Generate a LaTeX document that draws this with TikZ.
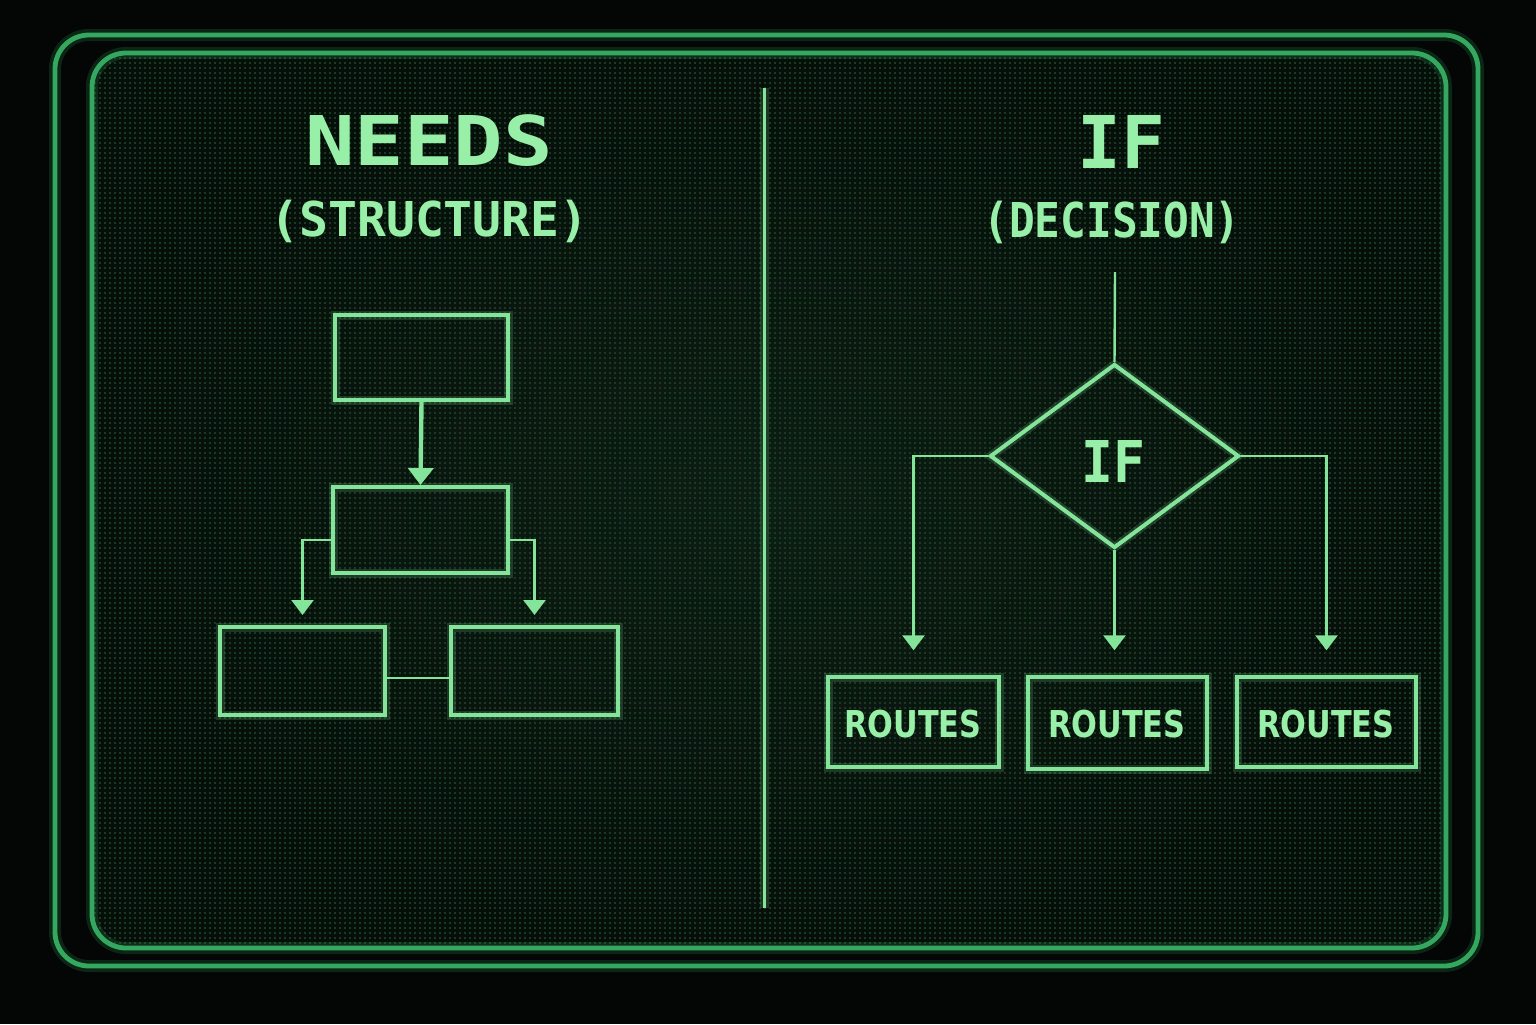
\documentclass[tikz,border=0pt]{standalone}
\usepackage{fontspec}
\usepackage{graphicx}
\setmainfont{DejaVu Sans}
\newfontfamily\crtmono{DejaVu Sans Mono}
\usetikzlibrary{shapes.geometric,arrows.meta}
\definecolor{bgk}{HTML}{030604}
\definecolor{scrout}{HTML}{060E09}
\definecolor{scrin}{HTML}{0D1E14}
\definecolor{dotc}{HTML}{163C22}
\definecolor{framec}{HTML}{33A85E}
\definecolor{lnc}{HTML}{84E49A}
\definecolor{txtc}{HTML}{98F0A8}
\begin{document}
\begin{tikzpicture}[x=0.5pt,y=-0.5pt,
  glow/.style={preaction={draw=lnc, line width=4.5pt, opacity=0.18}},
  frameline/.style={draw=framec, line width=2.4pt, rounded corners=17pt,
    preaction={draw=framec, line width=6pt, opacity=0.2}},
  fbox/.style={draw=lnc, line width=2pt, inner sep=0pt, glow},
  rbox/.style={draw=lnc, line width=1.7pt, inner sep=0pt, glow,
    font=\bfseries\fontsize{18.5pt}{20pt}\selectfont, text=txtc},
  conn/.style={draw=lnc, line width=1.2pt},
  arr/.style={draw=lnc, line width=1.3pt, -{Triangle[length=7.5pt,width=11pt]}},
  bigarr/.style={draw=lnc, line width=2.2pt, -{Triangle[length=8.5pt,width=12.5pt]}},
  ttl/.style={text=txtc, anchor=base, inner sep=0pt},
]
\useasboundingbox (0,0) rectangle (1536,1024);
\fill[bgk] (0,0) rectangle (1536,1024);
% screen
\shade[inner color=scrin, outer color=scrout, rounded corners=17pt] (92,53) rectangle (1446,948);
\begin{scope}
  \clip[rounded corners=17pt] (94,55) rectangle (1444,946);
  \foreach \yy in {58,63,...,946}
    \draw[dotc, line width=1.1pt, dash pattern=on 1.1pt off 1.4pt] (94,\yy) -- (1444,\yy);
\end{scope}
% frame
\draw[frameline] (55,35) rectangle (1478,966);
\draw[frameline] (92,53) rectangle (1446,948);
% divider
\coordinate (dtop) at (764,88);
\coordinate (dbot) at (764,908);
\draw[conn, line width=1.5pt, glow] (dtop) -- (dbot);

% titles
\node[ttl, font=\crtmono\bfseries\fontsize{34.3pt}{36pt}\selectfont] (t1) at (429,165) {\scalebox{1.2}[1]{NEEDS}};
\node[ttl, font=\crtmono\bfseries\fontsize{24pt}{26pt}\selectfont] (s1) at (429.5,236) {(STRUCTURE)};
\node[ttl, font=\crtmono\bfseries\fontsize{36.4pt}{38pt}\selectfont] (t2) at (1121,168) {IF};
\node[ttl, font=\crtmono\bfseries\fontsize{24pt}{26pt}\selectfont] (s2) at (1112,237) {\scalebox{0.89}[1]{(DECISION)}};

% left flowchart
\node[fbox, minimum width=86.5pt, minimum height=42.5pt] (A) at (421.5,357.5) {};
\node[fbox, minimum width=87.5pt, minimum height=43pt] (B) at (420.5,530) {};
\node[fbox, minimum width=82.5pt, minimum height=44pt] (C) at (302.5,671) {};
\node[fbox, minimum width=83.5pt, minimum height=44pt] (D) at (534.5,671) {};
\draw[bigarr] (A.south) -- (B.north);
\draw[arr, shorten >=5pt] ([yshift=-5pt]B.west) -| (C.north);
\draw[arr, shorten >=5pt] ([yshift=-5pt]B.east) -| (D.north);
\draw[conn] ([yshift=-3.5pt]C.east) -- ([yshift=-3.5pt]D.west);

% right flowchart
\coordinate (in) at (1115,272);
\node[diamond, draw=lnc, line width=2pt, inner sep=0pt, glow,
      minimum width=124.5pt, minimum height=92pt] (dec) at (1114.5,456) {};
\node[ttl, font=\crtmono\bfseries\fontsize{28.8pt}{30pt}\selectfont] (iflbl) at (1113,482) {\scalebox{0.92}[1]{IF}};
\node[rbox, minimum width=85.5pt, minimum height=45pt] (r1) at (913.5,722) {};
\node[rbox, minimum width=89.5pt, minimum height=46pt] (r2) at (1117.5,723) {};
\node[rbox, minimum width=89.5pt, minimum height=45pt] (r3) at (1326.5,722) {};
\node[ttl, font=\bfseries\fontsize{18.5pt}{20pt}\selectfont] at (913,737) {\scalebox{0.82}[1]{ROUTES}};
\node[ttl, font=\bfseries\fontsize{18.5pt}{20pt}\selectfont] at (1117,737) {\scalebox{0.82}[1]{ROUTES}};
\node[ttl, font=\bfseries\fontsize{18.5pt}{20pt}\selectfont] at (1326,737) {\scalebox{0.82}[1]{ROUTES}};
\draw[conn] (in) -- (dec.north);
\draw[arr, line width=1.4pt, shorten >=12.5pt] (dec.west) -| (r1.north);
\draw[arr, line width=1.4pt, shorten >=12.5pt] (dec.south) -- (dec.south |- r2.north);
\draw[arr, line width=1.4pt, shorten >=12.5pt] (dec.east) -| (r3.north);
\end{tikzpicture}
\end{document}
